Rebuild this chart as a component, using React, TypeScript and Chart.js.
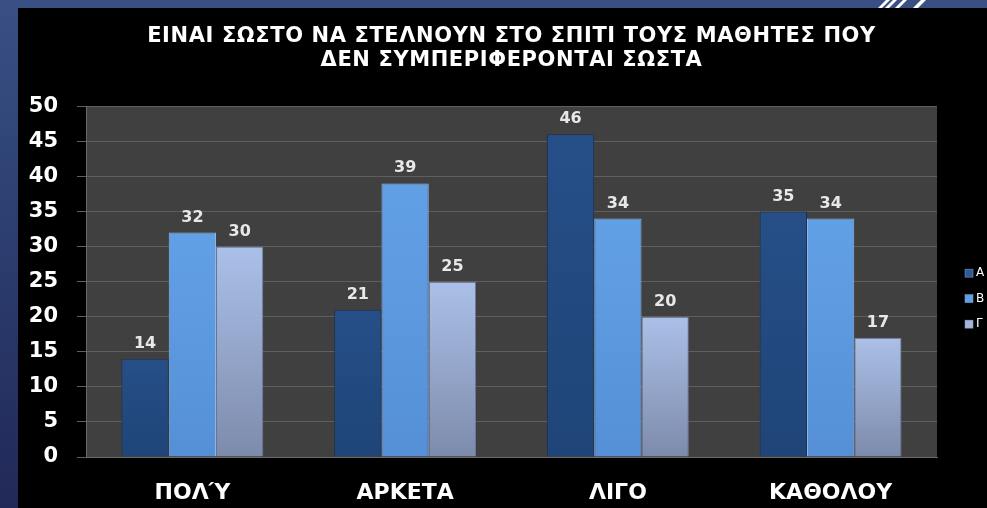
import React, { useEffect, useRef } from 'react';
import { Chart, registerables } from 'chart.js';

Chart.register(...registerables);

const titleLines = [
  'ΕΙΝΑΙ ΣΩΣΤΟ ΝΑ ΣΤΕΛΝΟΥΝ ΣΤΟ ΣΠΙΤΙ ΤΟΥΣ ΜΑΘΗΤΕΣ ΠΟΥ',
  'ΔΕΝ ΣΥΜΠΕΡΙΦΕΡΟΝΤΑΙ ΣΩΣΤΑ',
];
const categories = ['ΠΟΛΎ', 'ΑΡΚΕΤΑ', 'ΛΙΓΟ', 'ΚΑΘΟΛΟΥ'];
const seriesNames = ['Α', 'Β', 'Γ'];
const seriesA = [14, 21, 46, 35];
const seriesB = [32, 39, 34, 34];
const seriesG = [30, 25, 20, 17];
const yMin = 0;
const yMax = 50;
const yStep = 5;

const FONT = '"DejaVu Sans", sans-serif';

export default function App() {
  const ref = useRef<HTMLCanvasElement>(null);

  useEffect(() => {
    const canvas = ref.current;
    if (!canvas) return;

    const barGradient = (top: string, bottom: string, fallback: string) => (c: any) => {
      const chart = c.chart;
      const y = chart.scales && chart.scales.y;
      if (!y || c.raw == null) return fallback;
      const yt = y.getPixelForValue(c.raw);
      const yb = y.getPixelForValue(0);
      if (!isFinite(yt) || !isFinite(yb) || yt === yb) return fallback;
      const g = chart.ctx.createLinearGradient(0, yt, 0, yb);
      g.addColorStop(0, top);
      g.addColorStop(1, bottom);
      return g;
    };

    const plotBg = {
      id: 'plotBg',
      beforeDraw(chart: any) {
        const { ctx, chartArea: a } = chart;
        ctx.save();
        ctx.fillStyle = '#404040';
        ctx.fillRect(a.left, a.top, a.right - a.left, a.bottom - a.top);
        ctx.restore();
      },
    };

    const valueLabels = {
      id: 'valueLabels',
      afterDatasetsDraw(chart: any) {
        const ctx = chart.ctx;
        ctx.save();
        ctx.font = `bold 16px ${FONT}`;
        ctx.fillStyle = '#e8e8e8';
        ctx.textAlign = 'center';
        ctx.textBaseline = 'alphabetic';
        chart.data.datasets.forEach((ds: any, i: number) => {
          const meta = chart.getDatasetMeta(i);
          meta.data.forEach((bar: any, j: number) => {
            ctx.fillText(String(ds.data[j]), bar.x, bar.y - 11);
          });
        });
        ctx.restore();
      },
    };

    const sideLegend = {
      id: 'sideLegend',
      afterDraw(chart: any) {
        const ctx = chart.ctx;
        const a = chart.chartArea;
        const n = chart.data.datasets.length;
        const spacing = 25.5;
        const cy = (a.top + a.bottom) / 2 + 17;
        const x0 = a.right + 28;
        ctx.save();
        ctx.font = `12px ${FONT}`;
        ctx.textBaseline = 'middle';
        ctx.textAlign = 'left';
        chart.data.datasets.forEach((ds: any, i: number) => {
          const y = cy + (i - (n - 1) / 2) * spacing;
          ctx.fillStyle = ds.legendColor;
          ctx.fillRect(x0, y - 4, 8, 8);
          ctx.strokeStyle = '#8aa0c8';
          ctx.lineWidth = 0.5;
          ctx.strokeRect(x0, y - 4, 8, 8);
          ctx.fillStyle = '#ffffff';
          ctx.fillText(ds.label, x0 + 11, y);
        });
        ctx.restore();
      },
    };

    const yTickValues: number[] = [];
    for (let v = yMin; v <= yMax; v += yStep) yTickValues.push(v);

    const common = { categoryPercentage: 0.667, barPercentage: 1 };

    const chart = new Chart(canvas, {
      type: 'bar',
      data: {
        labels: categories,
        datasets: [
          {
            label: seriesNames[0],
            data: seriesA,
            backgroundColor: barGradient('#264f88', '#1f4578', '#234a7e'),
            borderColor: '#173055',
            borderWidth: 1,
            legendColor: '#2d5a95',
            ...common,
          } as any,
          {
            label: seriesNames[1],
            data: seriesB,
            backgroundColor: barGradient('#62a0e6', '#5590d6', '#5b97dd'),
            borderColor: '#8fb8e8',
            borderWidth: 1,
            legendColor: '#5ea0e8',
            ...common,
          } as any,
          {
            label: seriesNames[2],
            data: seriesG,
            backgroundColor: barGradient('#abc0e8', '#7d8bab', '#98a8cc'),
            borderColor: '#6a7898',
            borderWidth: 1,
            legendColor: '#a5b5d8',
            ...common,
          } as any,
        ],
      },
      options: {
        responsive: false,
        animation: false,
        layout: { padding: { left: 0, right: 50, top: 0, bottom: 0 } },
        plugins: {
          legend: { display: false },
          tooltip: { enabled: false },
          title: {
            display: true,
            fullSize: false,
            text: titleLines,
            color: '#ffffff',
            font: { family: FONT, size: 21, weight: 'bold', lineHeight: 1.15 },
            padding: { top: 16, bottom: 34 },
          },
        },
        scales: {
          x: {
            grid: { display: false },
            border: { display: true, color: '#6a6a6a' },
            ticks: {
              color: '#ffffff',
              font: { family: FONT, size: 22, weight: 'bold' },
              padding: 15,
              maxRotation: 0,
            },
            afterFit: (s: any) => {
              s.height = 51;
            },
          },
          y: {
            min: yMin,
            max: yMax,
            afterBuildTicks: (s: any) => {
              s.ticks = yTickValues.map((v) => ({ value: v }));
            },
            grid: { color: '#5f5f5f', lineWidth: 1, tickLength: 9 },
            border: { display: true, color: '#6a6a6a' },
            ticks: {
              color: '#ffffff',
              font: { family: FONT, size: 21, weight: 'bold' },
              padding: 19,
            },
            afterFit: (s: any) => {
              s.width = 68;
            },
          },
        },
      } as any,
      plugins: [plotBg, valueLabels, sideLegend],
    });

    // widen the title glyph spacing slightly to match the reference typography
    const tb: any = (chart as any).titleBlock;
    if (tb && typeof tb.draw === 'function') {
      const orig = tb.draw.bind(tb);
      tb.draw = () => {
        const ctx: any = (chart as any).ctx;
        ctx.save();
        ctx.letterSpacing = '0.6px';
        orig();
        ctx.restore();
      };
      chart.draw();
    }

    return () => chart.destroy();
  }, []);

  const stripe = (left: number, width: number) => (
    <div
      style={{
        position: 'absolute',
        top: 0,
        left,
        width,
        height: 8,
        background: '#ffffff',
        transform: 'skewX(-45deg)',
      }}
    />
  );

  return (
    <div
      style={{
        position: 'fixed',
        inset: 0,
        overflow: 'hidden',
        background: 'linear-gradient(180deg, #3a5085 0%, #2e4274 35%, #212958 100%)',
      }}
    >
      {stripe(882, 4)}
      {stripe(889, 4)}
      {stripe(899, 4)}
      {stripe(917, 5)}
      <div
        style={{
          position: 'absolute',
          left: 18,
          top: 8,
          width: 969,
          height: 500,
          background: '#000000',
        }}
      >
        <canvas ref={ref} width={969} height={500} style={{ display: 'block' }} />
      </div>
    </div>
  );
}
